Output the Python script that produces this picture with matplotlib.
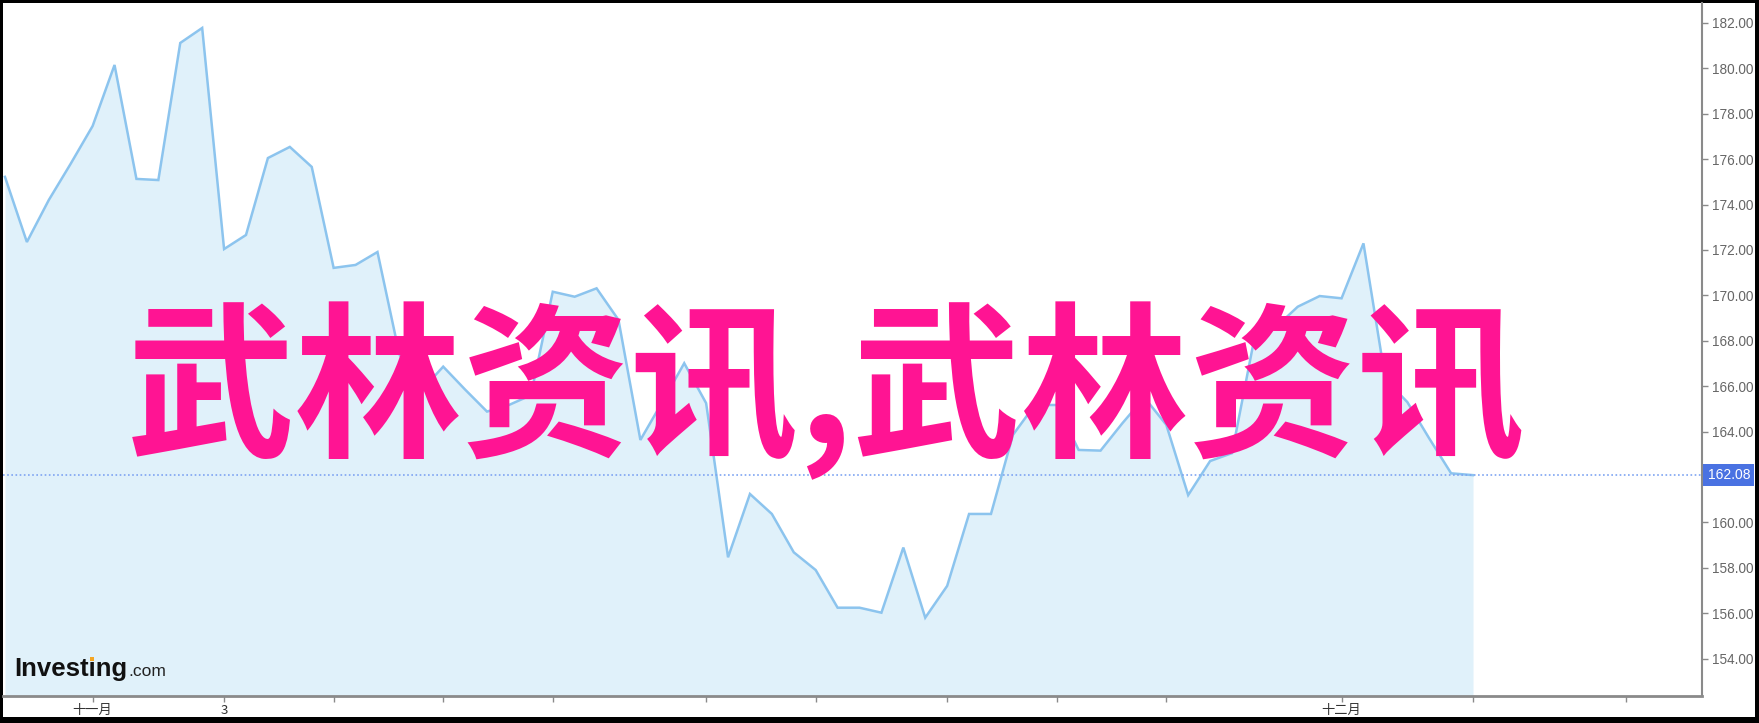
import matplotlib
matplotlib.use("Agg")
import matplotlib.pyplot as plt
from matplotlib.patches import Rectangle
import numpy as np

# ---- data ----
values = [175.22, 172.35, 174.2, 175.8, 177.46, 180.15, 175.13, 175.08, 181.12, 181.78,
          172.04, 172.66, 176.05, 176.54, 175.66, 171.21, 171.34, 171.91, 167.4, 165.8,
          166.86, 165.85, 164.88, 165.17, 165.6, 170.16, 169.94, 170.31, 168.92, 163.63,
          165.3, 167.01, 165.25, 158.46, 161.25, 160.37, 158.68, 157.90, 156.24, 156.24,
          156.02, 158.89, 155.80, 157.20, 160.37, 160.37, 163.85, 165.17, 165.17, 163.19,
          163.16, 164.37, 165.5, 164.3, 161.2, 162.7, 163.05, 168.0, 168.6, 169.5,
          169.97, 169.87, 172.29, 166.3, 165.3, 163.7, 162.16, 162.08]
last_price = 162.08
y_ticks = [154, 156, 158, 160, 164, 166, 168, 170, 172, 174, 176, 178, 180, 182]
x_tick_pos = [4, 10, 15, 20, 25, 32, 37, 43, 48, 53, 61, 67, 74]
x_tick_labels = ["十一月", "3", "", "", "", "", "", "", "", "", "十二月", "", ""]
watermark = "武林资讯,武林资讯"

W, H = 1759, 723
fig = plt.figure(figsize=(W / 100, H / 100), dpi=100, facecolor="black")
# white inner canvas
fig.patches.append(Rectangle((3 / W, 6 / H), (1755 - 3) / W, (720 - 6) / H,
                             transform=fig.transFigure, facecolor="white",
                             edgecolor="none", zorder=-5))

L, R, T, B = 3, 1702, 3, 696
ax = fig.add_axes([L / W, (H - B) / H, (R - L) / W, (B - T) / H])
ax.set_facecolor("none")
ax.set_zorder(1)

x = np.arange(len(values))
ax.fill_between(x, values, 150, color="#e0f1fa", zorder=1, linewidth=0)
ax.plot(x, values, color="#8cc4ee", linewidth=1.8, zorder=2, solid_joinstyle="miter")
ax.axhline(last_price, color="#7ea4f2", linewidth=1.2, linestyle=(0, (1, 1.5)), zorder=3)

ax.set_xlim(-0.09, 77.45)
ax.set_ylim(152.35, 182.88)

for s in ["top", "left"]:
    ax.spines[s].set_visible(False)
ax.spines["right"].set_color("#8a8a8a")
ax.spines["right"].set_linewidth(1.5)
ax.spines["bottom"].set_color("#8a8a8a")
ax.spines["bottom"].set_linewidth(2)

ax.yaxis.tick_right()
ax.set_yticks(y_ticks)
ax.set_yticklabels([f"{v:.2f}" for v in y_ticks])
ax.tick_params(axis="y", colors="#8a8a8a", labelcolor="#666666", length=4, width=1,
               pad=3, labelsize=9.8)
for lab in ax.get_yticklabels():
    lab.set_fontfamily(["Liberation Sans", "DejaVu Sans"])

ax.set_xticks(x_tick_pos)
ax.set_xticklabels(x_tick_labels)
ax.tick_params(axis="x", colors="#8a8a8a", labelcolor="#333333", length=4, width=1,
               pad=1.5, labelsize=9.5)
for lab in ax.get_xticklabels():
    lab.set_fontfamily(["Noto Sans CJK SC", "DejaVu Sans"])

# last price badge
ax.annotate(f"{last_price:.2f}", xy=(1.0, last_price), xycoords=("axes fraction", "data"),
            xytext=(4, 0), textcoords="offset points", ha="left", va="center",
            fontsize=10, color="white", fontfamily=["Liberation Sans", "DejaVu Sans"],
            bbox=dict(boxstyle="square,pad=0.3", facecolor="#4a72e2", edgecolor="none"),
            annotation_clip=False, zorder=5)

# watermark text
ax.text((826 - L) / (R - L), (B - 391) / (B - T), watermark, transform=ax.transAxes,
        ha="center", va="center", fontsize=121, color="#ff1493", fontweight="bold",
        fontfamily=["Noto Sans CJK SC", "DejaVu Sans"], zorder=6)

# Investing.com logo
base_y = H - 676
logo_font = ["Liberation Sans", "DejaVu Sans"]
t1 = fig.text(14, base_y, "Investing", transform=None, ha="left", va="baseline",
              fontsize=18.5, fontweight="bold", color="#111111", fontfamily=logo_font,
              zorder=6)
fig.canvas.draw()
renderer = fig.canvas.get_renderer()
bb = t1.get_window_extent(renderer)
fig.text(bb.x1 + 1, base_y, ".com", transform=None, ha="left", va="baseline",
         fontsize=12.5, color="#222222", fontfamily=logo_font, zorder=6)
tmp = fig.text(14, base_y, "Invest", transform=None, ha="left", va="baseline",
               fontsize=18.5, fontweight="bold", fontfamily=logo_font)
bb2 = tmp.get_window_extent(renderer)
tmp.remove()
em = 18.5 * 100 / 72
fig.patches.append(Rectangle((bb2.x1 + 0.07 * em, base_y + 0.6 * em), 0.15 * em, 0.13 * em,
                             transform=None, facecolor="#f5a623", edgecolor="none",
                             zorder=7))

fig.savefig("out.png", dpi=100, facecolor=fig.get_facecolor())
